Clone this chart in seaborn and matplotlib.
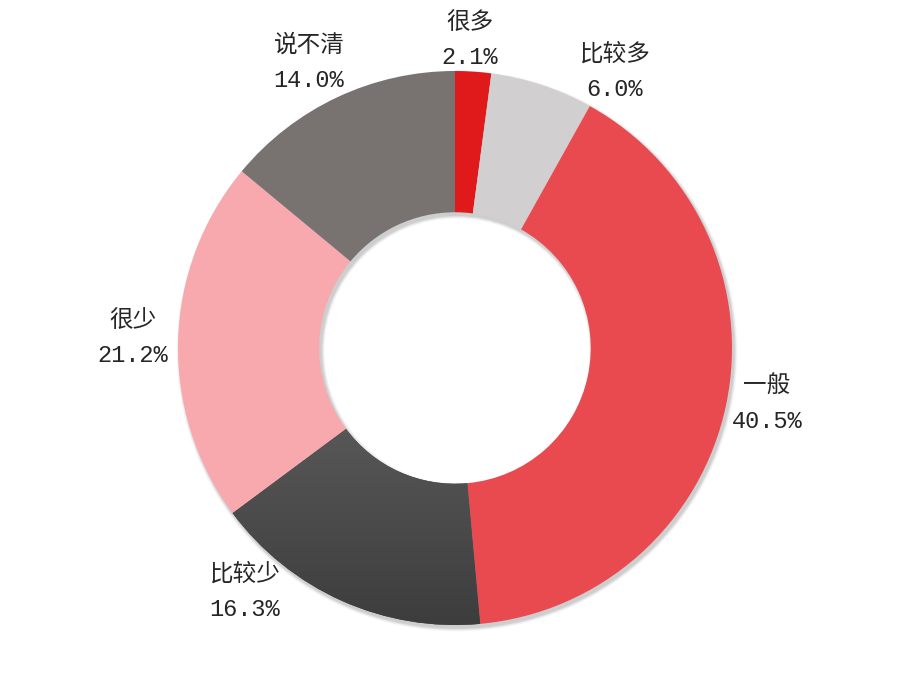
import matplotlib
matplotlib.use("Agg")
import matplotlib.pyplot as plt
from matplotlib.colors import LinearSegmentedColormap
import seaborn as sns
import numpy as np

categories = ["很多", "比较多", "一般", "比较少", "很少", "说不清"]
shares = [2.1, 6.0, 40.5, 16.3, 21.2, 14.0]
colors = ["#E0191B", "#D1CFD0", "#E84A50", "#484848", "#F8A9AE", "#787371"]

# label centres in pixel coords (x, y from top)
label_pos = [(470, 40), (615, 72), (767, 404), (245, 592), (133, 338), (309, 63)]

sns.set_theme(style="white")
plt.rcParams["font.family"] = ["Liberation Mono", "Noto Sans CJK SC"]

W, H = 908, 695
fig = plt.figure(figsize=(W / 100, H / 100), dpi=100)
ax = fig.add_axes([0, 0, 1, 1])

cx, cy, R = 455, H - 348, 277
ring = R * 0.51

# soft shadow under the ring
for k, a in zip(range(6, 0, -1), [0.02, 0.025, 0.03, 0.035, 0.04, 0.05]):
    ax.pie([1], colors=["black"], center=(cx + 2, cy - 3), radius=R + k * 0.6,
           frame=True, wedgeprops=dict(width=ring + k * 1.2, edgecolor="none", alpha=a))

wedges, _ = ax.pie(
    shares, colors=colors, startangle=90, counterclock=False,
    center=(cx, cy), radius=R, frame=True,
    wedgeprops=dict(width=ring, edgecolor="none"),
)

# vertical gradient on the dark segment
dark = wedges[3]
grad = LinearSegmentedColormap.from_list("g", ["#3d3d3d", "#5e5e5e"])
img = ax.imshow(np.linspace(0, 1, 256).reshape(-1, 1), cmap=grad, aspect="auto",
                origin="lower", extent=(cx - R, cx + R, cy - R, cy - ring * 0.2),
                zorder=dark.get_zorder() + 0.1)
img.set_clip_path(dark)

ax.set_xlim(0, W)
ax.set_ylim(0, H)
ax.set_aspect("equal")
ax.axis("off")

for (x, y), cat, val in zip(label_pos, categories, shares):
    ax.text(x, H - y, f"{cat}\n{val:.1f}%", ha="center", va="center",
            fontsize=17, color="#262626", linespacing=1.65)

fig.savefig("out.png", dpi=100)
